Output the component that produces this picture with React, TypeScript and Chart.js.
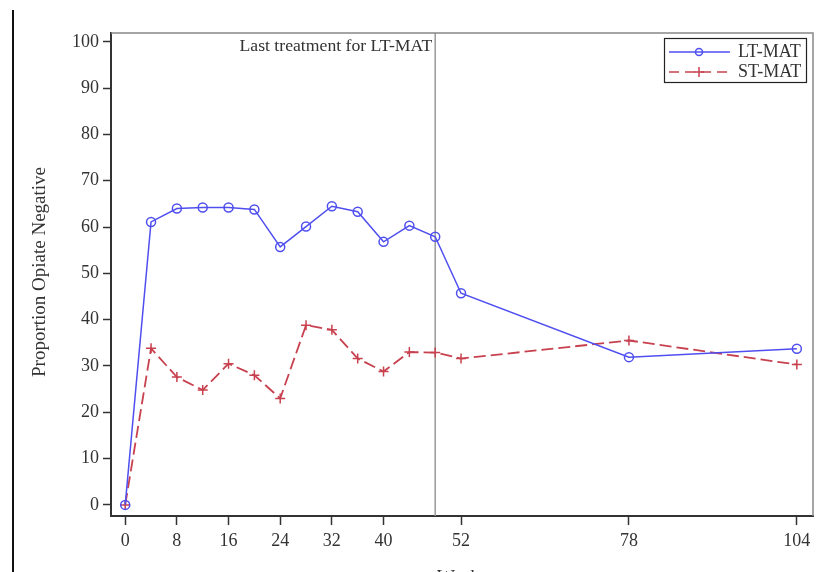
import React, { useEffect, useRef } from "react";
import { Chart, registerables } from "chart.js";

Chart.register(...registerables);

const weeks = [0, 4, 8, 12, 16, 20, 24, 28, 32, 36, 40, 44, 48, 52, 78, 104];
const ltMat = [0, 61.1, 64.0, 64.2, 64.2, 63.8, 55.7, 60.1, 64.5, 63.3, 56.8, 60.3, 57.9, 45.7, 31.9, 33.7];
const stMat = [0, 33.8, 27.6, 24.8, 30.5, 28.0, 23.0, 38.8, 37.8, 31.6, 28.8, 33.0, 32.9, 31.6, 35.5, 30.3];
const xTickValues = [0, 8, 16, 24, 32, 40, 52, 78, 104];
const yTickValues = [0, 10, 20, 30, 40, 50, 60, 70, 80, 90, 100];
const lastTreatmentWeek = 48;
const seriesNames = ["LT-MAT", "ST-MAT"];
const annotationText = "Last treatment for LT-MAT";

const BLUE = "#4f4ff0";
const RED = "#c8414f";
const FONT = "Liberation Serif";
const TEXT = "#333333";

const overlay = {
  id: "overlay",
  beforeDatasetsDraw(chart: any) {
    const { ctx, chartArea, scales } = chart;
    const x = scales.x.getPixelForValue(lastTreatmentWeek);
    ctx.save();
    ctx.strokeStyle = "#999999";
    ctx.lineWidth = 1.5;
    ctx.beginPath();
    ctx.moveTo(x, chartArea.top);
    ctx.lineTo(x, chartArea.bottom);
    ctx.stroke();
    ctx.fillStyle = TEXT;
    ctx.font = `17.7px ${FONT}`;
    ctx.textAlign = "right";
    ctx.textBaseline = "middle";
    ctx.fillText(annotationText, x - 3, chartArea.top + 13);
    ctx.restore();
  },
  afterDraw(chart: any) {
    const { ctx, chartArea } = chart;
    ctx.save();
    // frame top/right
    ctx.strokeStyle = "#888888";
    ctx.lineWidth = 1.5;
    ctx.beginPath();
    ctx.moveTo(chartArea.left, chartArea.top);
    ctx.lineTo(chartArea.right, chartArea.top);
    ctx.lineTo(chartArea.right, chartArea.bottom);
    ctx.stroke();
    // page edge line
    ctx.strokeStyle = "#111111";
    ctx.lineWidth = 2;
    ctx.beginPath();
    ctx.moveTo(13, 10);
    ctx.lineTo(13, 572);
    ctx.stroke();
    // axis titles
    ctx.fillStyle = TEXT;
    ctx.font = `19px ${FONT}`;
    ctx.textAlign = "center";
    ctx.textBaseline = "middle";
    ctx.save();
    ctx.translate(40, 272);
    ctx.rotate(-Math.PI / 2);
    ctx.fillText("Proportion Opiate Negative", 0, 0);
    ctx.restore();
    ctx.fillText("Weeks", (chartArea.left + chartArea.right) / 2, 578);
    // legend
    const bx = 664.5, by = 38.5, bw = 142, bh = 44;
    ctx.strokeStyle = "#222222";
    ctx.lineWidth = 1.2;
    ctx.strokeRect(bx, by, bw, bh);
    const rows = [by + 13.5, by + 33.5];
    // LT
    ctx.strokeStyle = BLUE;
    ctx.lineWidth = 1.5;
    ctx.setLineDash([]);
    ctx.beginPath();
    ctx.moveTo(669, rows[0]);
    ctx.lineTo(730, rows[0]);
    ctx.stroke();
    ctx.beginPath();
    ctx.arc(699, rows[0], 3.5, 0, Math.PI * 2);
    ctx.stroke();
    // ST
    ctx.strokeStyle = RED;
    ctx.setLineDash([10, 6]);
    ctx.beginPath();
    ctx.moveTo(669, rows[1]);
    ctx.lineTo(730, rows[1]);
    ctx.stroke();
    ctx.setLineDash([]);
    ctx.beginPath();
    ctx.moveTo(694, rows[1]);
    ctx.lineTo(704, rows[1]);
    ctx.moveTo(699, rows[1] - 5);
    ctx.lineTo(699, rows[1] + 5);
    ctx.stroke();
    ctx.fillStyle = TEXT;
    ctx.font = `18px ${FONT}`;
    ctx.textAlign = "left";
    ctx.fillText(seriesNames[0], 738, rows[0]);
    ctx.fillText(seriesNames[1], 738, rows[1]);
    ctx.restore();
  },
};

export default function App() {
  const ref = useRef<HTMLCanvasElement>(null);
  useEffect(() => {
    if (!ref.current) return;
    const chart = new Chart(ref.current, {
      type: "line",
      data: {
        datasets: [
          {
            label: seriesNames[0],
            data: weeks.map((w, i) => ({ x: w, y: ltMat[i] })),
            borderColor: BLUE,
            backgroundColor: "transparent",
            borderWidth: 1.5,
            pointStyle: "circle",
            pointRadius: 4.5,
            pointBorderColor: BLUE,
            pointBackgroundColor: "transparent",
            pointBorderWidth: 1.5,
            tension: 0,
          },
          {
            label: seriesNames[1],
            data: weeks.map((w, i) => ({ x: w, y: stMat[i] })),
            borderColor: RED,
            backgroundColor: "transparent",
            borderWidth: 1.8,
            borderDash: [12, 5],
            pointStyle: "cross",
            pointRadius: 5,
            pointBorderColor: RED,
            pointBorderWidth: 1.5,
            tension: 0,
          },
        ],
      },
      options: {
        responsive: false,
        animation: false,
        layout: { padding: { top: 33, right: 8, left: 0, bottom: 0 } },
        plugins: { legend: { display: false }, tooltip: { enabled: false } },
        scales: {
          x: {
            type: "linear",
            min: -2.2,
            max: 106.5,
            afterBuildTicks: (s: any) => {
              s.ticks = xTickValues.map((v) => ({ value: v }));
            },
            afterFit: (s: any) => {
              s.height = 56;
            },
            grid: { drawOnChartArea: false, tickLength: 9, color: "#333333", tickWidth: 1.5 },
            border: { color: "#333333", width: 2 },
            ticks: { color: TEXT, font: { family: FONT, size: 18 }, padding: 5, maxRotation: 0, autoSkip: false },
          },
          y: {
            min: -2.4,
            max: 101.9,
            afterBuildTicks: (s: any) => {
              s.ticks = yTickValues.map((v) => ({ value: v }));
            },
            afterFit: (s: any) => {
              s.width = 111;
            },
            grid: { drawOnChartArea: false, tickLength: 8, color: "#333333", tickWidth: 1.5 },
            border: { color: "#333333", width: 2 },
            ticks: { color: TEXT, font: { family: FONT, size: 18 }, padding: 4, autoSkip: false },
          },
        },
      },
      plugins: [overlay],
    });
    return () => chart.destroy();
  }, []);
  return (
    <div style={{ position: "fixed", left: 0, top: 0, width: 821, height: 572, background: "#fff" }}>
      <canvas ref={ref} width={821} height={572} style={{ width: 821, height: 572, display: "block" }} />
    </div>
  );
}
